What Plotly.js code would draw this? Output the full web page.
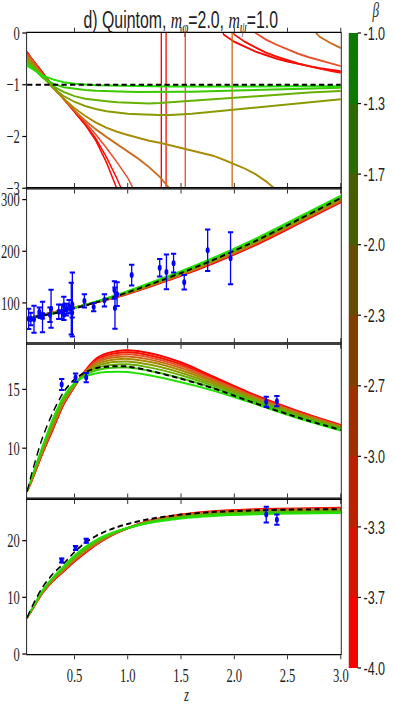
<!DOCTYPE html>
<html>
<head>
<meta charset="utf-8">
<script src="https://cdn.plot.ly/plotly-3.0.1.min.js"></script>
<style>
html,body{margin:0;padding:0;background:#fff;}
#wrap{width:393px;height:707px;overflow:hidden;position:relative;}
#plot{width:595px;height:707px;transform:scaleX(0.6605);transform-origin:0 0;}
</style>
</head>
<body>
<div id="wrap"><div id="plot"></div></div>
<script>
// ---------------- data ----------------
const BETA = [-4.0, -3.625, -3.25, -2.875, -2.5, -2.125, -1.75, -1.375, -1.0];

// panel 1: w(z)
const Z_W = [0.055,0.1,0.2,0.3,0.4,0.5,0.6,0.7,0.8,0.9,1.0,1.1,1.2,1.3,1.4,1.5,1.6,1.7,1.8,1.9,2.0,2.1,2.2,2.3,2.4,2.5,2.6,2.7,2.8,2.9,3.0];
const W_POLE_Z = [1.315, 1.36, 1.54, 1.98, null, null, null, null, null];
const W_POLE = 60;
const W0 = [-0.36,-0.50,-0.76,-1.04,-1.28,-1.52,-1.77,-2.08,-2.5,-3.02,-3.6,-4.4,-6.0,-12,20,8,4,1.8,0.6,-0.03,-0.17,-0.27,-0.36,-0.43,-0.5,-0.55,-0.6,-0.64,-0.68,-0.71,-0.74];
const W1 = [-0.38,-0.5,-0.77,-1.04,-1.28,-1.52,-1.76,-2.04,-2.4,-2.82,-3.3,-4.0,-5.2,-8.5,30,12,6,3,1.3,0.4,-0.03,-0.17,-0.28,-0.38,-0.46,-0.53,-0.59,-0.64,-0.69,-0.73,-0.77];
const W2 = [-0.40,-0.51,-0.79,-1.05,-1.28,-1.5,-1.72,-1.96,-2.22,-2.5,-2.8,-3.2,-3.7,-4.5,-6,-12,25,10,5,2.5,1.2,0.4,0.0,-0.13,-0.23,-0.32,-0.40,-0.47,-0.53,-0.59,-0.64];
const W3 = [-0.43,-0.54,-0.81,-1.06,-1.28,-1.5,-1.69,-1.86,-2.01,-2.15,-2.29,-2.43,-2.59,-2.78,-3.02,-3.35,-3.8,-4.5,-5.8,-9,50,15,8,4,2.2,1.2,0.55,0.15,-0.07,-0.19,-0.29];
const W4 = [-0.47,-0.57,-0.83,-1.07,-1.27,-1.45,-1.6,-1.73,-1.83,-1.91,-1.97,-2.03,-2.08,-2.12,-2.17,-2.21,-2.26,-2.31,-2.37,-2.45,-2.53,-2.62,-2.73,-2.87,-3.04,-3.25,-3.5,-3.8,-4.2,-4.8,-5.5];
const W5 = [-0.51,-0.6,-0.85,-1.06,-1.22,-1.33,-1.41,-1.47,-1.51,-1.54,-1.56,-1.57,-1.58,-1.585,-1.585,-1.575,-1.56,-1.54,-1.52,-1.495,-1.47,-1.45,-1.43,-1.41,-1.39,-1.37,-1.35,-1.33,-1.31,-1.295,-1.28];
const W6 = [-0.55,-0.63,-0.86,-1.03,-1.14,-1.22,-1.27,-1.3,-1.32,-1.34,-1.35,-1.355,-1.36,-1.355,-1.34,-1.32,-1.30,-1.285,-1.27,-1.255,-1.24,-1.225,-1.21,-1.2,-1.19,-1.175,-1.16,-1.15,-1.14,-1.13,-1.12];
const W7 = [-0.59,-0.66,-0.86,-0.98,-1.05,-1.08,-1.10,-1.115,-1.125,-1.13,-1.135,-1.138,-1.14,-1.14,-1.14,-1.137,-1.133,-1.128,-1.122,-1.116,-1.11,-1.105,-1.1,-1.095,-1.09,-1.085,-1.08,-1.075,-1.07,-1.065,-1.06];
const W8 = [-0.63,-0.69,-0.82,-0.9,-0.95,-0.98,-1.0,-1.01,-1.015,-1.02,-1.025,-1.027,-1.03,-1.032,-1.033,-1.034,-1.035,-1.035,-1.035,-1.035,-1.034,-1.034,-1.033,-1.033,-1.032,-1.032,-1.031,-1.031,-1.03,-1.03,-1.03];
const Z_WL = [0.055, 3.0];
const W_LCDM = [-1, -1];

// panels 2-4 grid
const Z_C = [0.055,0.1,0.2,0.3,0.4,0.5,0.6,0.7,0.8,0.9,1.0,1.2,1.5,1.8,2.2,2.6,3.0];

// panel 2: H(z)
const H0 = [70.6,72.5,77.4,81.8,86.5,91,96,101,106,111.5,117.5,131,152.5,176.5,212,253,295];
const H1 = [70.54,72.39,77.19,81.58,86.34,90.93,96.02,101.15,106.3,111.93,118.05,131.7,153.4,177.55,213.25,254.3,296.25];
const H2 = [70.49,72.29,77.0,81.38,86.2,90.87,96.04,101.29,106.57,112.32,118.55,132.33,154.21,178.5,214.38,255.47,297.38];
const H3 = [70.43,72.18,76.79,81.16,86.04,90.8,96.06,101.44,106.87,112.75,119.1,133.03,155.11,179.55,215.63,256.77,298.63];
const H4 = [70.36,72.06,76.56,80.92,85.86,90.72,96.08,101.6,107.2,113.22,119.7,133.8,156.1,180.7,217.0,258.2,300.0];
const H5 = [70.29,71.93,76.31,80.66,85.67,90.64,96.1,101.78,107.56,113.74,120.36,134.64,157.18,181.96,218.5,259.76,301.5];
const H6 = [70.21,71.79,76.04,80.37,85.46,90.55,96.13,101.98,107.95,114.3,121.08,135.55,158.35,183.33,220.13,261.45,303.13];
const H7 = [70.12,71.62,75.72,80.04,85.22,90.44,96.16,102.2,108.4,114.94,121.9,136.6,159.7,184.9,222.0,263.4,305.0];
const H8 = [70,71.4,75.3,79.6,84.9,90.3,96.2,102.5,109,115.8,123,138,161.5,187,224.5,266,307.5];
const H_LCDM = [70,71.5,75.5,79.5,84.5,89.5,95,101,107,113.5,120.5,135,158,183,220,261,303];
const HZ_Z = [0.07,0.09,0.12,0.17,0.179,0.199,0.2,0.27,0.28,0.352,0.3802,0.4,0.4004,0.4247,0.4497,0.47,0.4783,0.48,0.593,0.68,0.781,0.875,0.88,0.9,1.037,1.3,1.363,1.43,1.53,1.75,1.965];
const HZ_H = [69,69,68.6,83,75,75,72.9,77,88.8,83,83,95,77,87.1,92.8,89,80.9,97,104,92,105,125,90,117,154,168,160,177,140,202,186.5];
const HZ_ERR = [19.6,12,26.2,8,4,5,29.6,14,36.6,14,13.5,17,10.2,11.2,12.9,50,9,62,13,8,12,17,40,23,20,17,33.6,18,14,40,50.4];

// panel 3
const P3_0 = [6.3,7.2,9.5,11.6,13.7,15.2,16.6,17.6,18.05,18.27,18.33,18.1,17.3,16.1,14.5,13.15,11.98];
const P3_1 = [6.3,7.24,9.57,11.7,13.78,15.24,16.55,17.48,17.89,18.09,18.15,17.91,17.13,15.98,14.43,13.09,11.93];
const P3_2 = [6.3,7.28,9.63,11.79,13.84,15.27,16.5,17.36,17.75,17.93,17.98,17.74,16.98,15.87,14.36,13.04,11.89];
const P3_3 = [6.3,7.32,9.7,11.89,13.92,15.3,16.46,17.24,17.6,17.76,17.79,17.55,16.81,15.75,14.28,12.98,11.84];
const P3_4 = [6.3,7.36,9.78,12.0,14.0,15.34,16.4,17.1,17.42,17.56,17.59,17.34,16.62,15.62,14.2,12.91,11.79];
const P3_5 = [6.3,7.41,9.86,12.12,14.09,15.38,16.34,16.95,17.23,17.35,17.37,17.11,16.42,15.48,14.11,12.84,11.73];
const P3_6 = [6.3,7.46,9.96,12.25,14.19,15.43,16.28,16.79,17.02,17.12,17.13,16.87,16.2,15.32,14.01,12.76,11.67];
const P3_7 = [6.3,7.52,10.06,12.4,14.3,15.48,16.2,16.6,16.79,16.85,16.85,16.58,15.94,15.14,13.9,12.67,11.6];
const P3_8 = [6.3,7.6,10.2,12.6,14.45,15.55,16.1,16.35,16.47,16.5,16.48,16.2,15.6,14.9,13.75,12.55,11.5];
const P3_LCDM = [6.3,7.9,10.9,13.1,14.8,15.85,16.45,16.8,16.93,16.97,16.95,16.6,15.9,15.1,13.8,12.6,11.55];
const P3_Z = [0.38,0.51,0.61,2.3,2.4];
const P3_V = [15.42,16.0,16.0,13.95,14.0];
const P3_ERR = [0.47,0.35,0.4,0.42,0.43];

// panel 4
const P4_0 = [6.3,7.7,10.7,12.9,14.6,16.3,17.8,19.2,20.4,21.4,22.2,23.5,24.6,25.2,25.55,25.7,25.8];
const P4_1 = [6.31,7.73,10.76,12.97,14.69,16.41,17.91,19.29,20.46,21.43,22.21,23.46,24.53,25.12,25.46,25.61,25.71];
const P4_2 = [6.32,7.76,10.81,13.03,14.77,16.51,18.01,19.37,20.51,21.46,22.21,23.42,24.47,25.04,25.38,25.53,25.63];
const P4_3 = [6.33,7.79,10.87,13.1,14.86,16.62,18.12,19.46,20.57,21.49,22.21,23.38,24.4,24.95,25.29,25.44,25.54];
const P4_4 = [6.34,7.82,10.94,13.18,14.96,16.74,18.24,19.56,20.64,21.52,22.22,23.34,24.32,24.86,25.19,25.34,25.44];
const P4_5 = [6.35,7.86,11.01,13.26,15.07,16.87,18.37,19.67,20.71,21.56,22.23,23.29,24.24,24.76,25.08,25.23,25.33];
const P4_6 = [6.37,7.9,11.09,13.36,15.19,17.02,18.52,19.79,20.79,21.6,22.23,23.24,24.15,24.65,24.97,25.12,25.22];
const P4_7 = [6.38,7.94,11.18,13.46,15.32,17.18,18.68,19.92,20.88,21.64,22.24,23.18,24.04,24.52,24.83,24.98,25.08];
const P4_8 = [6.4,8.0,11.3,13.6,15.5,17.4,18.9,20.1,21.0,21.7,22.25,23.1,23.9,24.35,24.65,24.8,24.9];
const P4_LCDM = [6.4,8.3,11.8,14.2,16.0,18.0,19.6,20.8,21.7,22.4,22.95,23.8,24.6,25.05,25.35,25.5,25.55];
const P4_Z = [0.38,0.51,0.61,2.3,2.4];
const P4_V = [16.5,18.7,20.0,24.6,23.7];
const P4_ERR = [0.35,0.35,0.35,1.4,0.9];

// colorbar
const CB_TICKS = [-1.0,-4/3,-5/3,-2.0,-7/3,-8/3,-3.0,-10/3,-11/3,-4.0];
const CB_TEXT = ['-1.0','-1.3','-1.7','-2.0','-2.3','-2.7','-3.0','-3.3','-3.7','-4.0'];

// ---------------- styles ----------------
const CURVE_COLORS = ['#ff0000','#f81000','#e8502a','#cc6a1c','#a88a00','#8a9a00','#66b000','#3cc800','#22e000'];
const BAND_COLORS = ['#f20400','#d61300','#b92100','#9d3000','#803e00','#644d00','#475c00','#2b6a00','#0e7900'];
const SERIF = 'Liberation Serif, DejaVu Serif, serif';
const SANS = 'Liberation Sans, DejaVu Sans, sans-serif';

const W_SET = [W0,W1,W2,W3,W4,W5,W6,W7,W8];
const H_SET = [H0,H1,H2,H3,H4,H5,H6,H7,H8];
const P3_SET = [P3_0,P3_1,P3_2,P3_3,P3_4,P3_5,P3_6,P3_7,P3_8];
const P4_SET = [P4_0,P4_1,P4_2,P4_3,P4_4,P4_5,P4_6,P4_7,P4_8];

const traces = [];
// panel 1
W_SET.forEach((w, i) => {
  const xs = [], ys = [];
  const p = W_POLE_Z[i];
  for (let k = 0; k < Z_W.length; k++) {
    xs.push(Z_W[k]); ys.push(w[k]);
    if (p !== null && k + 1 < Z_W.length && Z_W[k] < p && Z_W[k+1] > p) {
      xs.push(p, p); ys.push(-W_POLE, W_POLE);
    }
  }
  traces.push({x: xs, y: ys, xaxis: 'x', yaxis: 'y', mode: 'lines',
    line: {color: CURVE_COLORS[i], width: 2}, hoverinfo: 'skip', showlegend: false});
});
traces.push({x: Z_WL, y: W_LCDM, xaxis: 'x', yaxis: 'y', mode: 'lines',
  line: {color: '#000', width: 2, dash: '8px,5px'}, showlegend: false, hoverinfo: 'skip'});

function band(set, lcdm, ax, ay) {
  set.forEach((v, i) => traces.push({x: Z_C, y: v, xaxis: ax, yaxis: ay, mode: 'lines',
    line: {color: CURVE_COLORS[i], width: 2, shape: 'spline', smoothing: 0.8}, hoverinfo: 'skip', showlegend: false}));
  traces.push({x: Z_C, y: lcdm, xaxis: ax, yaxis: ay, mode: 'lines',
    line: {color: '#000', width: 2, dash: '8px,5px', shape: 'spline', smoothing: 0.8}, hoverinfo: 'skip', showlegend: false});
}
function pts(zs, vs, es, ax, ay) {
  traces.push({x: zs, y: vs, xaxis: ax, yaxis: ay, mode: 'markers', showlegend: false,
    marker: {color: '#0000ff', size: 6},
    error_y: {type: 'data', array: es, visible: true, color: '#0000ff', thickness: 2, width: 4}});
}
band(H_SET, H_LCDM, 'x2', 'y2'); pts(HZ_Z, HZ_H, HZ_ERR, 'x2', 'y2');
band(P3_SET, P3_LCDM, 'x3', 'y3'); pts(P3_Z, P3_V, P3_ERR, 'x3', 'y3');
band(P4_SET, P4_LCDM, 'x4', 'y4'); pts(P4_Z, P4_V, P4_ERR, 'x4', 'y4');

// colorbar carrier
const cscale = [];
BAND_COLORS.forEach((c, i) => { cscale.push([i/9, c]); cscale.push([(i+1)/9, c]); });
traces.push({x: [null], y: [null], xaxis: 'x', yaxis: 'y', mode: 'markers', showlegend: false, hoverinfo: 'skip',
  marker: {color: [BETA[0]], cmin: -4, cmax: -1, colorscale: cscale, showscale: true,
    colorbar: {x: 1.0248, xanchor: 'left', y: 1, yanchor: 'top', len: 635, lenmode: 'pixels',
      thickness: 13.6, thicknessmode: 'pixels', xpad: 0, ypad: 0, outlinewidth: 0,
      tickmode: 'array', tickvals: CB_TICKS, ticktext: CB_TEXT, ticks: 'outside', ticklen: 5,
      tickwidth: 1.2, tickcolor: '#000', tickfont: {family: SANS, size: 19, color: '#222'}}}});

const XR = [0.055, 3.0];
function xax(anchor, labels) {
  return {domain: [0, 1], anchor: anchor, range: XR, showline: true, mirror: 'ticks', linecolor: '#000', linewidth: 1.3,
    ticks: 'outside', ticklen: 4, tickwidth: 1.2, tickcolor: '#000', tickmode: 'array',
    tickvals: [0.5, 1.0, 1.5, 2.0, 2.5, 3.0], ticktext: ['0.5','1.0','1.5','2.0','2.5','3.0'],
    showticklabels: labels, showgrid: false, zeroline: false,
    tickfont: {family: SERIF, size: 19, color: '#222'}};
}
function yax(anchor, dom, rng, vals, texts) {
  return {domain: dom, anchor: anchor, range: rng, showline: true, mirror: true, linecolor: '#000', linewidth: 1.3,
    ticks: 'outside', ticklen: 6, tickwidth: 1.2, tickcolor: '#000', tickmode: 'array', tickvals: vals, ticktext: texts,
    showgrid: false, zeroline: false, tickfont: {family: SERIF, size: 19, color: '#222'}};
}

const layout = {
  width: 595, height: 707,
  margin: {l: 41, r: 74, t: 33, b: 53},
  paper_bgcolor: '#fff', plot_bgcolor: '#fff',
  showlegend: false,
  title: {text: 'd) Quintom, <span style="font-family:Liberation Serif"><i>m</i><sub><i>φ</i></sub></span>=2.0, <span style="font-family:Liberation Serif"><i>m</i><sub><i>ψ</i></sub></span>=1.0',
    font: {family: SANS, size: 24, color: '#222'}, x: 0.49, xref: 'paper', xanchor: 'center',
    y: 0.972, yref: 'container', yanchor: 'middle'},
  xaxis: xax('y', false), xaxis2: xax('y2', false), xaxis3: xax('y3', false), xaxis4: xax('y4', true),
  yaxis: yax('x', [0.75, 1], [-3, 0], [0, -1, -2, -3], ['0', '\u22121', '\u22122', '\u22123']),
  yaxis2: yax('x2', [0.5, 0.75], [21.5, 322], [100, 200, 300], ['100', '200', '300']),
  yaxis3: yax('x3', [0.25, 0.5], [5.7, 18.9], [10, 15], ['10', '15']),
  yaxis4: yax('x4', [0, 0.25], [0, 27.4], [0, 10, 20], ['0', '10', '20']),
  annotations: [
    {text: '<i>β</i>', xref: 'paper', yref: 'paper', x: 1.11, y: 1.036, xanchor: 'center', yanchor: 'middle',
      showarrow: false, font: {family: SERIF, size: 20, color: '#333'}},
    {text: '<i>z</i>', xref: 'paper', yref: 'paper', x: 0.508, y: -0.0665, xanchor: 'center', yanchor: 'middle',
      showarrow: false, font: {family: SERIF, size: 18, color: '#222'}}
  ]
};

Plotly.newPlot('plot', traces, layout, {staticPlot: true, displayModeBar: false, responsive: false});
</script>
</body>
</html>
